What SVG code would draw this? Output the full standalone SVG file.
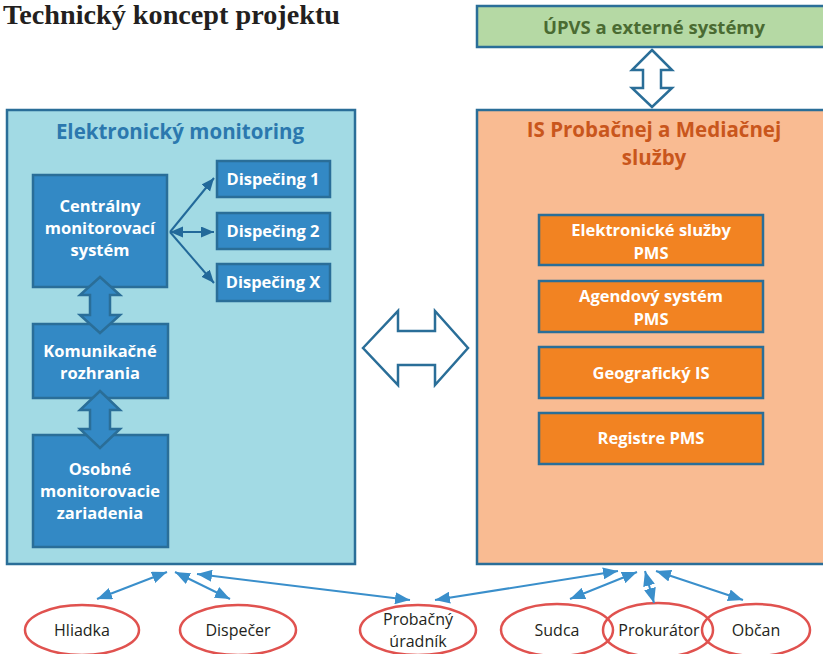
<svg xmlns="http://www.w3.org/2000/svg" width="823" height="654" viewBox="0 0 823 654">
<style>
.frame{stroke:#2a6e98;stroke-width:2.5}
.blue{fill:#3389c5;stroke:#2a6e98;stroke-width:2.5}
.org{fill:#f28322;stroke:#2a6e98;stroke-width:2.5}
.wt{font-family:"Open Sans","Noto Sans",sans-serif;font-weight:bold;fill:#ffffff;text-anchor:middle;font-size:16.5px}
.ol{fill:#ffffff;stroke:#2a6e98;stroke-width:2.5;stroke-linejoin:miter}
.el{fill:none;stroke:#e0524f;stroke-width:2.5}
.et{font-family:"Open Sans","Noto Sans",sans-serif;fill:#231f20;text-anchor:middle;font-size:16px}
.ca{stroke:#3a8fcb;stroke-width:2;fill:none;marker-start:url(#ab);marker-end:url(#ab)}
.da{stroke:#22699a;stroke-width:2;fill:none;marker-end:url(#ad)}
.hd{font-family:"Open Sans","Noto Sans",sans-serif;font-weight:bold;font-size:20.5px;text-anchor:middle}
</style>
<defs>
<marker id="ab" markerUnits="userSpaceOnUse" markerWidth="16" markerHeight="12" refX="15" refY="6" orient="auto-start-reverse"><path d="M0,0 L15,6 L0,12 z" fill="#3a8fcb"/></marker>
<marker id="ad" markerUnits="userSpaceOnUse" markerWidth="14" markerHeight="12" refX="13" refY="5.5" orient="auto-start-reverse"><path d="M0,0 L13,5.5 L0,11 z" fill="#22699a"/></marker>
</defs>
<rect width="823" height="654" fill="#ffffff"/>
<text x="3" y="24" font-family="Liberation Serif,serif" font-weight="bold" font-size="27px" fill="#231f20" textLength="337" lengthAdjust="spacingAndGlyphs">Technický koncept projektu</text>

<g id="upvs">
<rect x="477" y="6" width="360" height="41" fill="#b5d9a4" class="frame"/>
<text x="654" y="34" font-family="Open Sans,Noto Sans,sans-serif" font-weight="bold" font-size="18.5px" fill="#4a6b32" text-anchor="middle">ÚPVS a externé systémy</text>
</g>

<g id="em">
<rect x="7" y="110" width="348" height="454" fill="#a2dae4" class="frame"/>
<text class="hd" x="180" y="139" fill="#2b78ae">Elektronický monitoring</text>
</g>
<g id="cms">
<rect x="33" y="175" width="134" height="112" class="blue"/>
<text class="wt" x="100" y="212">Centrálny</text>
<text class="wt" x="100" y="234">monitorovací</text>
<text class="wt" x="100" y="256">systém</text>
</g>
<g id="d1"><rect x="217" y="161" width="113" height="36" class="blue"/><text class="wt" x="273" y="185">Dispečing 1</text></g>
<g id="d2"><rect x="217" y="213" width="113" height="36" class="blue"/><text class="wt" x="273" y="237">Dispečing 2</text></g>
<g id="dx"><rect x="217" y="264" width="113" height="37" class="blue"/><text class="wt" x="273" y="288">Dispečing X</text></g>
<g id="kom">
<rect x="33" y="324" width="135" height="74" class="blue"/>
<text class="wt" x="100" y="357">Komunikačné</text>
<text class="wt" x="100" y="379">rozhrania</text>
</g>
<g id="osob">
<rect x="33" y="435" width="135" height="112" class="blue"/>
<text class="wt" x="100" y="475">Osobné</text>
<text class="wt" x="100" y="497">monitorovacie</text>
<text class="wt" x="100" y="519">zariadenia</text>
</g>

<g id="is">
<rect x="477" y="110" width="360" height="454" fill="#f9bb92" class="frame"/>
<text class="hd" x="654" y="137" fill="#c9561c">IS Probačnej a Mediačnej</text>
<text class="hd" x="654" y="165" fill="#c9561c">služby</text>
</g>
<g id="es"><rect x="539" y="215" width="224" height="50" class="org"/><text class="wt" x="651" y="236">Elektronické služby</text><text class="wt" x="651" y="259">PMS</text></g>
<g id="as"><rect x="539" y="281" width="224" height="51" class="org"/><text class="wt" x="651" y="302">Agendový systém</text><text class="wt" x="651" y="325">PMS</text></g>
<g id="gis"><rect x="539" y="347" width="224" height="51" class="org"/><text class="wt" x="651" y="379">Geografický IS</text></g>
<g id="reg"><rect x="539" y="413" width="224" height="51" class="org"/><text class="wt" x="651" y="444">Registre PMS</text></g>

<g id="hliadka"><ellipse cx="82" cy="630" rx="57" ry="25" class="el"/><text class="et" x="82" y="636">Hliadka</text></g>
<g id="dispecer"><ellipse cx="238" cy="630" rx="58" ry="25" class="el"/><text class="et" x="238" y="636">Dispečer</text></g>
<g id="probacny"><ellipse cx="418" cy="630" rx="58" ry="25" class="el"/><text class="et" x="418" y="625">Probačný</text><text class="et" x="418" y="647">úradník</text></g>
<g id="sudca"><ellipse cx="557" cy="630" rx="56" ry="26" class="el"/><text class="et" x="557" y="636">Sudca</text></g>
<g id="prokurator"><ellipse cx="658" cy="630" rx="55" ry="27" class="el"/><text class="et" x="659" y="636">Prokurátor</text></g>
<g id="obcan"><ellipse cx="756" cy="630" rx="54" ry="26" class="el"/><text class="et" x="756" y="636">Občan</text></g>

<g id="connectors">
<path class="ol" d="M652,50 L672,70 L661,70 L661,88 L672,88 L652,107 L632,88 L643,88 L643,70 L632,70 Z"/>
<path class="ol" d="M363,348 L398,311 L398,331 L435,331 L435,311 L468,348 L435,385 L435,365 L398,365 L398,385 Z"/>
<path class="blue" d="M100,277 L120,295 L110,295 L110,315 L120,315 L100,333 L80,315 L90,315 L90,295 L80,295 Z"/>
<path class="blue" d="M100,391 L120,410 L110,410 L110,429 L120,429 L100,448 L80,429 L90,429 L90,410 L80,410 Z"/>
<line class="da" x1="170" y1="232" x2="214" y2="178"/>
<line class="da" x1="170" y1="232" x2="214" y2="232" style="marker-start:url(#ad)"/>
<line class="da" x1="170" y1="232" x2="214" y2="283"/>
<line class="ca" x1="97" y1="599" x2="167" y2="572"/>
<line class="ca" x1="175" y1="572" x2="230" y2="599"/>
<line class="ca" x1="197" y1="574" x2="410" y2="600"/>
<line class="ca" x1="435" y1="600" x2="618" y2="571"/>
<line class="ca" x1="570" y1="599" x2="637" y2="572"/>
<line class="ca" x1="645" y1="571" x2="654" y2="603"/>
<line class="ca" x1="656" y1="571" x2="743" y2="600"/>
</g>
</svg>
